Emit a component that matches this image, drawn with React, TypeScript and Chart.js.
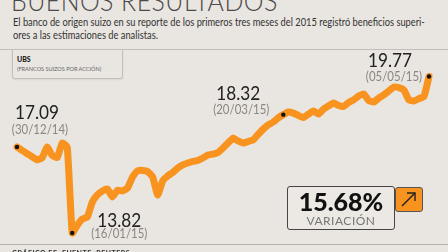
import React, { useEffect, useRef } from "react";
import { Chart, registerables } from "chart.js";

Chart.register(...registerables);

const title = "BUENOS RESULTADOS";
const subtitleLines = [
  "El banco de origen suizo en su reporte de los primeros tres meses del 2015 registró beneficios superi-",
  "ores a las estimaciones de analistas.",
];
const seriesName = "UBS";
const seriesUnit = "(FRANCOS SUIZOS POR ACCIÓN)";
const variation = "15.68%";
const variationLabel = "VARIACIÓN";
const footer = "GRÁFICO EE: FUENTE: REUTERS";

const values = [
  17.09, 16.96, 16.84, 16.72, 16.6, 16.68, 17.09, 16.77, 16.69, 17.24,
  17.09, 13.82, 14.12, 14.35, 14.43, 15.0, 15.27, 15.42, 15.49, 15.19,
  15.45, 15.42, 15.53, 15.95, 16.18, 16.2, 16.16, 15.95, 15.27, 15.8,
  15.99, 16.12, 16.29, 16.41, 16.48, 16.54, 16.58, 16.67, 16.79, 16.82,
  16.88, 17.05, 17.24, 17.43, 17.32, 17.24, 17.3, 17.36, 17.57, 17.77,
  17.93, 18.04, 18.2, 18.32, 18.42, 18.38, 18.29, 18.21, 18.34, 18.46,
  18.34, 18.53, 18.65, 18.76, 18.67, 18.63, 18.78, 18.88, 19.03, 19.11,
  18.86, 18.8, 18.95, 19.07, 19.22, 19.37, 19.35, 19.26, 18.88, 18.84,
  18.93, 19.01, 19.77,
];
const labels = values.map((_, i) => String(i));

const markIndices = [0, 11, 53, 82];
const markValues = ["17.09", "13.82", "18.32", "19.77"];
const markDates = ["(30/12/14)", "(16/01/15)", "(20/03/15)", "(05/05/15)"];

const ORANGE = "#F7931E";
const BG = "#E9E5E0";

const labelOffsets = [
  { vx: 20, vy: -34, dx: 23, dy: -17 },
  { vx: 47, vy: -12, dx: 47, dy: 1 },
  { vx: -45, vy: -21, dx: -42, dy: -5 },
  { vx: -39, vy: -16, dx: -35, dy: 0 },
];

const markLabelPlugin = {
  id: "markLabels",
  afterDatasetsDraw(chart: any) {
    const { ctx } = chart;
    const xs = chart.scales.x;
    const ys = chart.scales.y;
    markIndices.forEach((idx, i) => {
      const px = xs.getPixelForValue(idx);
      const py = ys.getPixelForValue(values[idx]);
      const o = labelOffsets[i];
      ctx.save();
      ctx.textAlign = "center";
      ctx.textBaseline = "middle";
      ctx.fillStyle = "#222";
      ctx.translate(px + o.vx, py + o.vy);
      ctx.scale(0.86, 1);
      ctx.font = "400 20px Lato";
      ctx.fillText(markValues[i], 0, 0);
      ctx.restore();
      ctx.save();
      ctx.textAlign = "center";
      ctx.textBaseline = "middle";
      ctx.fillStyle = "#8a8683";
      ctx.translate(px + o.dx, py + o.dy);
      ctx.scale(0.88, 1);
      ctx.font = "400 13px Lato";
      ctx.fillText(markDates[i], 0, 0);
      ctx.restore();
    });
  },
};

function LineChart() {
  const ref = useRef<HTMLCanvasElement>(null);
  useEffect(() => {
    if (!ref.current) return;
    const chart = new Chart(ref.current, {
      type: "line",
      data: {
        labels,
        datasets: [
          {
            data: values,
            borderColor: ORANGE,
            borderWidth: 7,
            tension: 0.15,
            borderJoinStyle: "round",
            borderCapStyle: "round",
            clip: false as any,
            pointRadius: (c: any) => (markIndices.includes(c.dataIndex) ? 2.2 : 0),
            pointBackgroundColor: "#111",
            pointBorderWidth: 0,
            pointHoverRadius: 0,
          },
        ],
      },
      options: {
        animation: false,
        responsive: false,
        maintainAspectRatio: false,
        events: [],
        layout: { padding: { left: 17, right: 19, top: 60, bottom: 12 } },
        plugins: { legend: { display: false }, tooltip: { enabled: false } },
        scales: {
          x: { type: "category", display: false, offset: false },
          y: { type: "linear", display: false, min: 13.554, max: 20.398 },
        },
      },
      plugins: [markLabelPlugin],
    });
    return () => chart.destroy();
  }, []);
  return <canvas ref={ref} width={448} height={252} style={{ position: "absolute", left: 0, top: 0 }} />;
}

export default function App() {
  return (
    <div
      style={{
        position: "fixed",
        left: 0,
        top: 0,
        width: 448,
        height: 252,
        background: BG,
        overflow: "hidden",
        fontFamily: "Lato, 'Open Sans', sans-serif",
      }}
    >
      <div
        style={{
          position: "absolute",
          left: 11,
          top: -17,
          fontSize: 28,
          fontWeight: 300,
          color: "#4a4a4a",
          whiteSpace: "nowrap",
          transform: "scaleX(0.89)",
          transformOrigin: "left top",
          letterSpacing: 0.5,
        }}
      >
        {title}
      </div>
      {subtitleLines.map((t, i) => (
        <div
          key={i}
          style={{
            position: "absolute",
            left: 13,
            top: 16 + i * 13,
            fontSize: 10.5,
            color: "#333",
            whiteSpace: "nowrap",
            transform: "scaleX(0.885)",
            transformOrigin: "left top",
          }}
        >
          {t}
        </div>
      ))}
      <div style={{ position: "absolute", left: 0, top: 49, width: 448, height: 1, background: "#c2beba" }} />
      <div
        style={{
          position: "absolute",
          left: 12,
          top: 49,
          width: 109,
          height: 29,
          border: "1px solid #c2beba",
          borderTop: "none",
          borderRadius: "0 0 3px 3px",
          boxShadow: "0 1px 2px rgba(0,0,0,0.08)",
        }}
      >
        <div style={{ position: "absolute", left: 4, top: 6, fontSize: 7, fontWeight: 900, color: "#222" }}>{seriesName}</div>
        <div
          style={{
            position: "absolute",
            left: 4,
            top: 16,
            fontSize: 6.5,
            color: "#666",
            whiteSpace: "nowrap",
            transform: "scaleX(0.85)",
            transformOrigin: "left top",
          }}
        >
          {seriesUnit}
        </div>
      </div>
      <LineChart />
      <div
        style={{
          position: "absolute",
          left: 287,
          top: 186,
          width: 106,
          height: 42,
          border: "1.5px solid #444",
          borderRadius: 3,
          background: "#ECE8E4",
        }}
      >
        <div
          style={{
            position: "absolute",
            left: 0,
            width: 106,
            top: 1,
            textAlign: "center",
            fontSize: 25,
            fontWeight: 900,
            color: "#111",
            lineHeight: "26px",
          }}
        >
          {variation}
        </div>
        <div
          style={{
            position: "absolute",
            left: 0,
            width: 106,
            top: 27,
            textAlign: "center",
            fontSize: 12,
            color: "#777",
            letterSpacing: 0.5,
            lineHeight: "13px",
          }}
        >
          {variationLabel}
        </div>
      </div>
      <div
        style={{
          position: "absolute",
          left: 395,
          top: 187,
          width: 26,
          height: 23,
          background: ORANGE,
          border: "1px solid #555",
          borderRadius: 3,
        }}
      >
        <svg width={26} height={23} style={{ position: "absolute", left: 0, top: 0 }}>
          <line x1={6} y1={18} x2={19} y2={5} stroke="#222" strokeWidth={1.4} />
          <polyline points="11,5 19,5 19,13" fill="none" stroke="#222" strokeWidth={1.4} />
        </svg>
      </div>
      <div style={{ position: "absolute", left: 0, top: 244, width: 448, height: 1, background: "#b5b1ad" }} />
      <div
        style={{
          position: "absolute",
          left: 12,
          top: 249,
          fontSize: 7,
          fontWeight: 700,
          color: "#333",
          whiteSpace: "nowrap",
          letterSpacing: 0.5,
        }}
      >
        {footer}
      </div>
    </div>
  );
}
